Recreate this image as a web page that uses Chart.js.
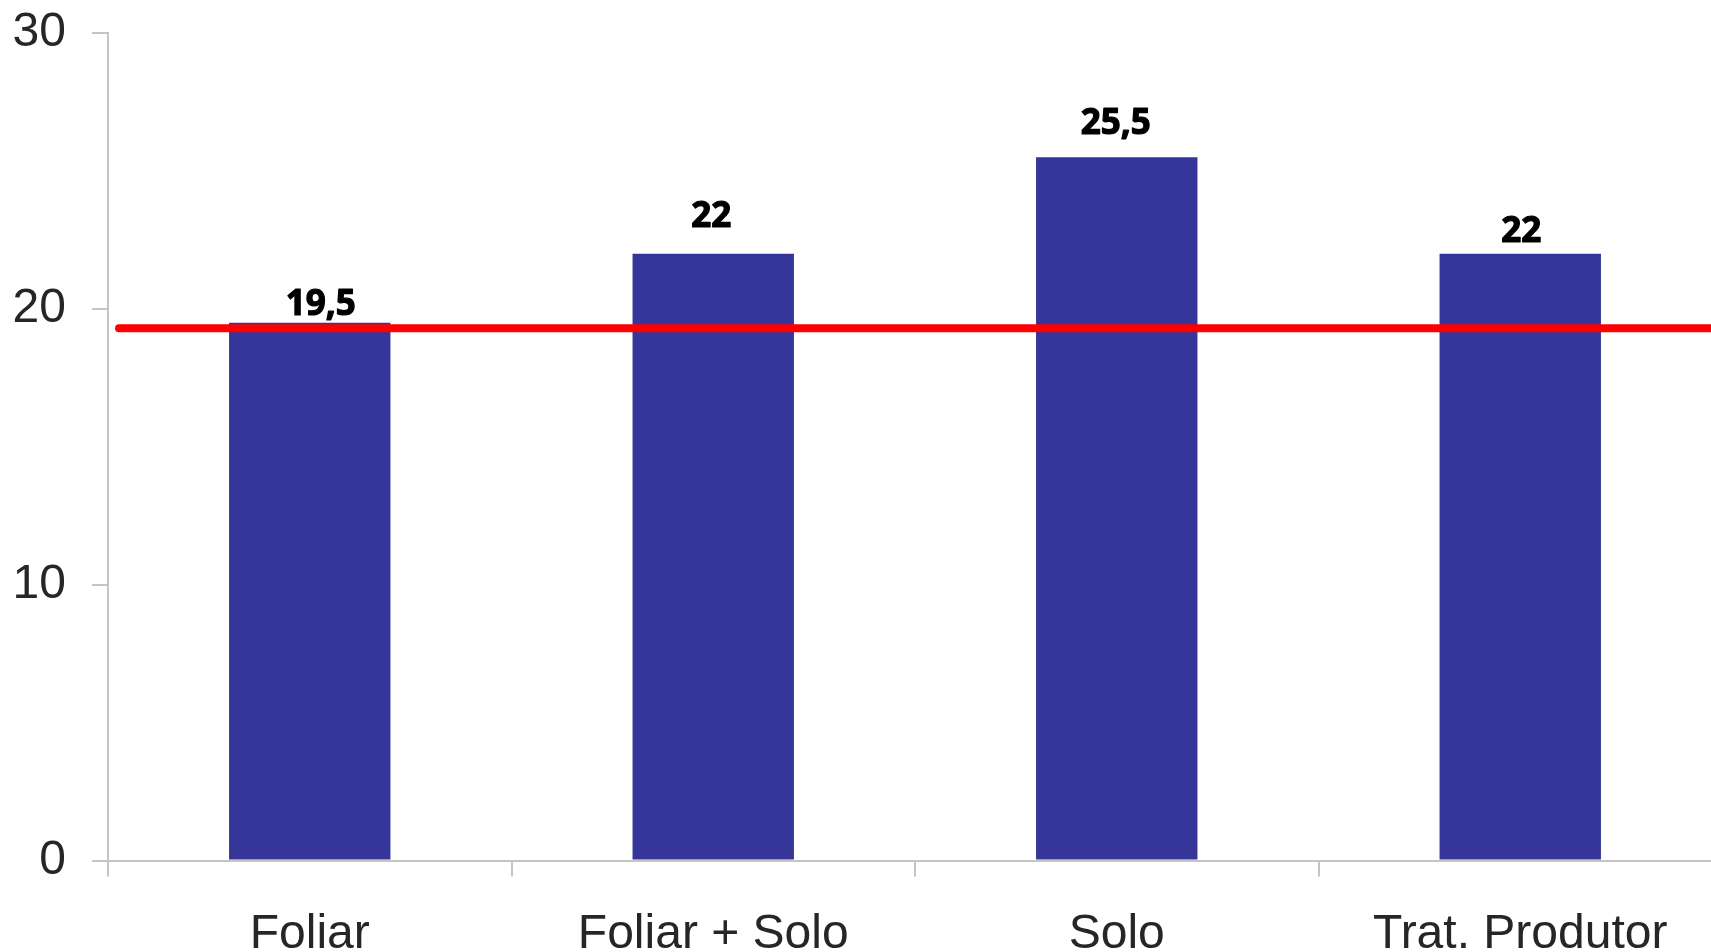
<!DOCTYPE html>
<html lang="pt">
<head>
    <meta charset="UTF-8">
    <title>Tratamentos</title>
    <script src="https://cdn.jsdelivr.net/npm/chart.js"></script>
    <style>
        html, body {
            margin: 0;
            padding: 0;
            background: #ffffff;
            overflow: hidden;
        }
        canvas {
            display: block;
        }
    </style>
</head>
<body>
    <canvas id="barChart" width="1730" height="952"></canvas>

    <script>
        // Data
        const categories = ["Foliar", "Foliar + Solo", "Solo", "Trat. Produtor"];
        const values = [19.5, 22, 25.5, 22];
        const valueLabels = ["19,5", "22", "25,5", "22"];
        const yTicks = [0, 10, 20, 30];
        const referenceValue = 19.3; // red horizontal line

        // Label nudges (px), as placed by hand in the original
        const labelDx = [11, -2, -1, 1];
        const labelDy = [20, 39, 35, 24];

        const barColor = "#35359a";
        const axisColor = "#c4c4c4";
        const tickColor = "#262626";
        const tickFont = { family: "'Liberation Sans', Arial, sans-serif", size: 48 };

        // Red reference line + value labels on top of the bars
        const overlayPlugin = {
            id: "overlay",
            afterDatasetsDraw(chart) {
                const ctx = chart.ctx;
                const area = chart.chartArea;
                const y = chart.scales.y.getPixelForValue(referenceValue);

                ctx.save();
                ctx.strokeStyle = "#ff0000";
                ctx.lineWidth = 8;
                ctx.lineCap = "round";
                ctx.beginPath();
                ctx.moveTo(area.left + 11, y);
                ctx.lineTo(chart.width + 10, y);
                ctx.stroke();

                ctx.fillStyle = "#000000";
                ctx.strokeStyle = "#000000";
                ctx.lineWidth = 1.2;
                ctx.lineJoin = "round";
                ctx.font = "700 35px 'Open Sans'";
                ctx.textAlign = "center";
                ctx.textBaseline = "alphabetic";
                const meta = chart.getDatasetMeta(0);
                meta.data.forEach((bar, i) => {
                    const lx = bar.x + labelDx[i];
                    const ly = bar.y - labelDy[i] + 12;
                    ctx.fillText(valueLabels[i], lx, ly);
                    ctx.strokeText(valueLabels[i], lx, ly);
                });
                ctx.restore();
            }
        };

        const ctx = document.getElementById("barChart").getContext("2d");
        new Chart(ctx, {
            type: "bar",
            data: {
                labels: categories,
                datasets: [
                    {
                        data: values,
                        backgroundColor: barColor,
                        borderWidth: 0,
                        barPercentage: 0.4,
                        categoryPercentage: 1.0,
                    },
                ],
            },
            options: {
                responsive: false,
                animation: false,
                layout: {
                    padding: { top: 33, right: 8, bottom: 0, left: 0 },
                },
                plugins: {
                    legend: { display: false },
                    tooltip: { enabled: false },
                },
                scales: {
                    x: {
                        afterFit(scale) {
                            scale.height = 91.5;
                        },
                        border: { display: true, color: axisColor, width: 2 },
                        grid: {
                            drawOnChartArea: false,
                            drawTicks: true,
                            tickLength: 16,
                            color: axisColor,
                            lineWidth: 2,
                        },
                        ticks: {
                            color: tickColor,
                            padding: 29,
                            font: tickFont,
                        },
                    },
                    y: {
                        min: 0,
                        max: 30,
                        afterFit(scale) {
                            scale.width = 108;
                            scale.paddingTop = 0;
                            scale.paddingBottom = 0;
                        },
                        afterBuildTicks(scale) {
                            scale.ticks = yTicks.map(v => ({ value: v }));
                        },
                        border: { display: true, color: axisColor, width: 2 },
                        grid: {
                            drawOnChartArea: false,
                            drawTicks: true,
                            tickLength: 16,
                            color: axisColor,
                            lineWidth: 2,
                        },
                        ticks: {
                            color: tickColor,
                            padding: 26,
                            font: tickFont,
                        },
                    },
                },
            },
            plugins: [overlayPlugin],
        });
    </script>
</body>
</html>
